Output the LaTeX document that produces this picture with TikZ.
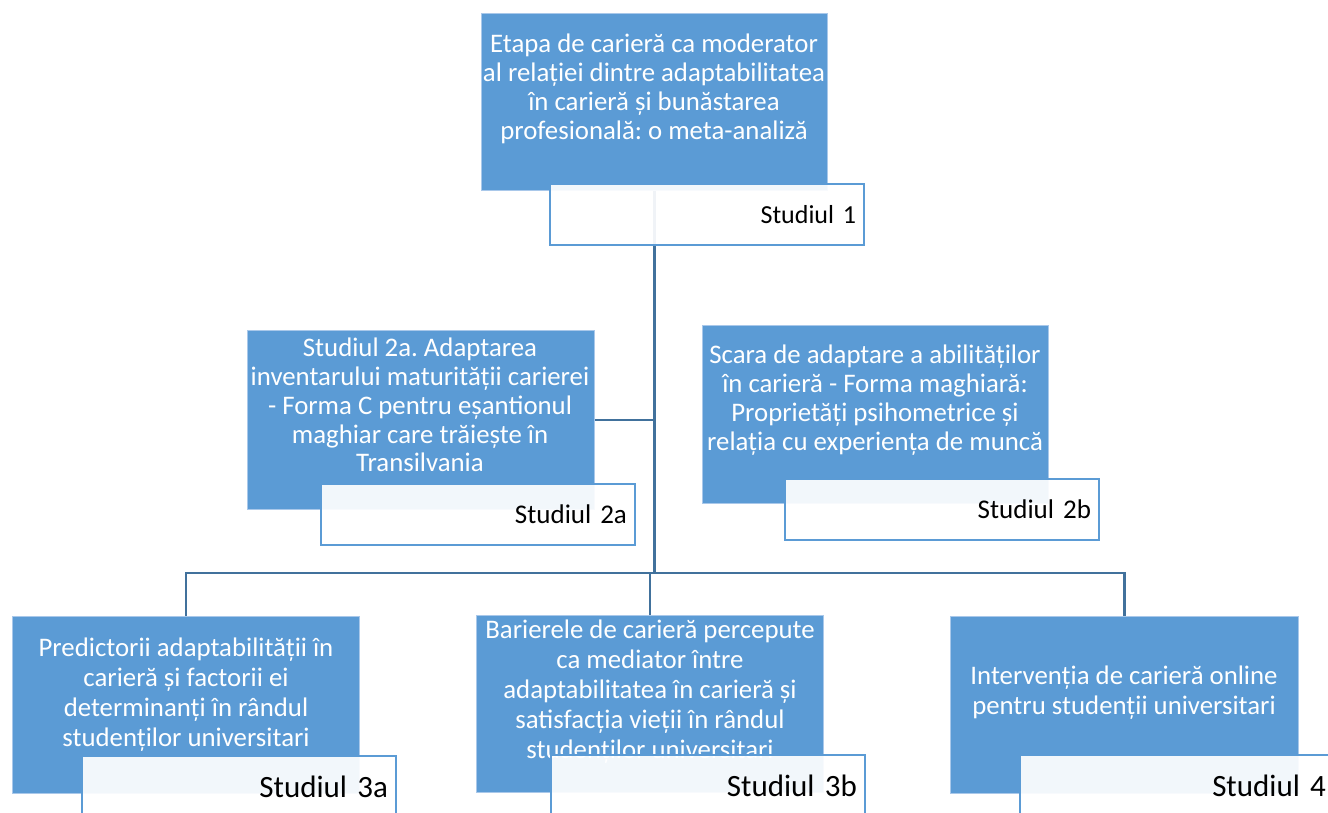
\documentclass[tikz,border=0pt]{standalone}
\usepackage{fontspec}
\setmainfont{Carlito}
\frenchspacing
\definecolor{boxblue}{HTML}{5B9BD5}
\definecolor{boxedge}{HTML}{A9C8EA}
\definecolor{linkblue}{HTML}{41719C}
\tikzset{
  bluebox/.style={rectangle, fill=boxblue, draw=boxedge, line width=0.8pt,
    anchor=north west, inner sep=0pt},
  boxtext/.style={text=white, align=center, inner sep=0pt,
    font=\fontsize{26.8}{28.8}\selectfont},
  tag/.style={rectangle, fill=white, fill opacity=0.92, text opacity=1,
    draw=boxblue, line width=2pt, anchor=north west, inner ysep=0pt,
    inner xsep=8pt, text width=298pt, align=right, minimum height=61pt},
  conn/.style={draw=linkblue, line width=2.4pt}
}
\begin{document}
\begin{tikzpicture}[x=1pt, y=-1pt]
\clip (0,0) rectangle (1328,812);
\fill[white] (0,0) rectangle (1328,812);

% study boxes
\node[bluebox, minimum width=346pt, minimum height=177pt] (b1)  at (481,13)  {};
\node[bluebox, minimum width=347pt, minimum height=179pt] (b2a) at (247,330) {};
\node[bluebox, minimum width=346pt, minimum height=178pt] (b2b) at (702,325) {};
\node[bluebox, minimum width=347pt, minimum height=177pt] (b3a) at (12,616)  {};
\node[bluebox, minimum width=347pt, minimum height=177pt] (b3b) at (476,615) {};
\node[bluebox, minimum width=348pt, minimum height=177pt] (b4)  at (950,616) {};

% connectors
\coordinate (bus) at (0,573);
\draw[conn] (b1.south) -- (b1.south |- bus);
\draw[conn] (b2a.east) -- (b2a.east -| b1.south);
\draw[conn] (b3a.north) -- (b3a.north |- bus) -- (b4.north |- bus) -- (b4.north);
\draw[conn] (b3b.north) -- (b3b.north |- bus);

% titles
\node[boxtext] (t1) at (654,89)
  {Etapa de carieră ca moderator\\al relației dintre adaptabilitatea\\în carieră și bunăstarea\\profesională: o meta-analiză};
\node[boxtext] (t2a) at (420,405)
  {Studiul 2a. Adaptarea\\inventarului maturității carierei\\- Forma C pentru eșantionul\\maghiar care trăiește în\\Transilvania};
\node[boxtext] (t2b) at (875,400)
  {Scara de adaptare a abilităților\\în carieră - Forma maghiară:\\Proprietăți psihometrice și\\relația cu experiența de muncă};
\node[boxtext, font=\fontsize{26.8}{30}\selectfont] (t3a) at (186,695)
  {Predictorii adaptabilității în\\carieră și factorii ei\\determinanți în rândul\\studenților universitari};
\node[boxtext, font=\fontsize{26.8}{30}\selectfont] (t3b) at (650,692)
  {Barierele de carieră percepute\\ca mediator între\\adaptabilitatea în carieră și\\satisfacția vieții în rândul\\studenților universitari};
\node[boxtext, font=\fontsize{26.8}{30}\selectfont] (t4) at (1124,693)
  {Intervenția de carieră online\\pentru studenții universitari};

% study tags
\node[tag, font=\fontsize{26}{28}\selectfont] (s1)  at (549,183) {Studiul 1};
\node[tag, font=\fontsize{27}{28}\selectfont] (s2a) at (320,483) {Studiul 2a};
\node[tag, font=\fontsize{27}{28}\selectfont] (s2b) at (784,478) {Studiul 2b};
\node[tag, font=\fontsize{31}{32}\selectfont] (s3a) at (81,755)  {Studiul 3a};
\node[tag, font=\fontsize{31}{32}\selectfont] (s3b) at (550,754) {Studiul 3b};
\node[tag, font=\fontsize{31}{32}\selectfont] (s4)  at (1019,754) {Studiul 4};
\end{tikzpicture}
\end{document}
